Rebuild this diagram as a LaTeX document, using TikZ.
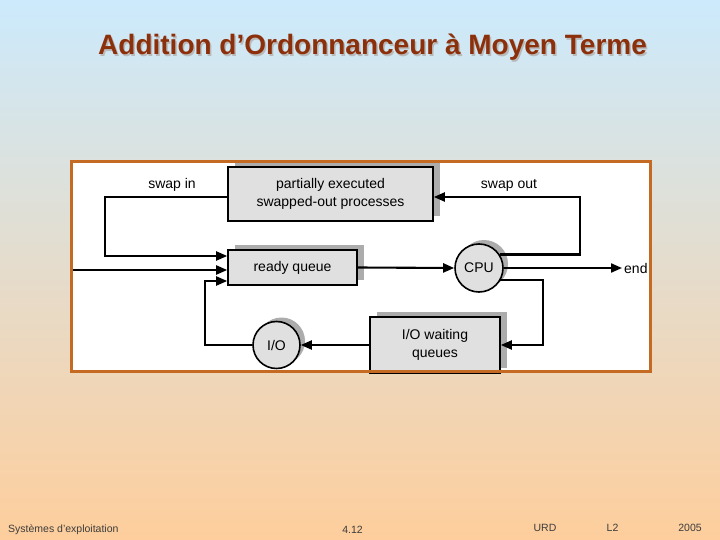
\documentclass[tikz,border=0pt]{standalone}
\usepackage{fontspec}
\setmainfont{Liberation Sans}
\usetikzlibrary{arrows.meta,shadows}
\definecolor{bgtop}{RGB}{204,234,252}
\definecolor{bgmid}{RGB}{236,222,212}
\definecolor{bgbot}{RGB}{254,206,156}
\definecolor{framec}{RGB}{196,106,34}
\definecolor{titlec}{RGB}{140,48,12}
\definecolor{boxc}{RGB}{224,224,224}
\definecolor{footc}{RGB}{60,60,60}
\tikzset{
  box/.style={draw=black, line width=1.6pt, fill=boxc, font=\fontsize{14}{18}\selectfont, align=center,
    drop shadow={shadow xshift=7pt, shadow yshift=5pt, fill=gray!65, opacity=1}},
  circ/.style={circle, draw=black, line width=1.6pt, fill=boxc, font=\fontsize{14}{18}\selectfont, inner sep=0pt,
    drop shadow={shadow xshift=5pt, shadow yshift=4pt, fill=gray!65, opacity=1}},
  arr/.style={line width=2.1pt, -{Triangle[length=11pt,width=9pt]}},
  lbl/.style={font=\fontsize{14}{18}\selectfont},
  foot/.style={font=\fontsize{10.5}{12}\selectfont, text=footc, inner sep=0pt}
}
\begin{document}
\begin{tikzpicture}[x=1pt,y=-1pt]
\useasboundingbox (0,0) rectangle (720,540);
\shade[top color=bgtop, middle color=bgmid, bottom color=bgbot] (0,0) rectangle (720,540);
% title
\node[font=\bfseries\fontsize{28}{32}\selectfont, text=gray!55] at (374,49) {Addition d’Ordonnanceur à Moyen Terme};
\node[font=\bfseries\fontsize{28}{32}\selectfont, text=titlec] (title) at (372.5,47.5) {Addition d’Ordonnanceur à Moyen Terme};
% frame
\fill[white] (71.5,161.5) rectangle (650.5,371.5);
% nodes
\node[box, minimum width=205pt, minimum height=54pt] (pe) at (330.5,194) {partially executed\\swapped-out processes};
\node[box, minimum width=129pt, minimum height=35pt] (rq) at (292.5,267.5) {ready queue};
\node[box, minimum width=130pt, minimum height=56pt] (iow) at (435,345) {I/O waiting\\queues};
\node[circ, minimum size=48pt] (cpu) at (479,268) {CPU};
\node[circ, minimum size=47pt] (io) at (276.5,345) {I/O};
\node[lbl] (swinl) at (172,185) {swap in};
\node[lbl] (swoutl) at (509,185) {swap out};
\node[lbl, anchor=west, inner sep=2pt] (endt) at (622,268) {end};
% connectors
\coordinate (swin) at (105,256);
\draw[arr] ([yshift=-3pt]pe.west) -| (swin) -- (rq.west |- swin);
\coordinate (in) at (72,270);
\draw[arr] (in) -- (rq.west |- in);
\coordinate (ioL) at (205,281);
\draw[arr] (io.west) -| (ioL) -- (rq.west |- ioL);
\draw[arr] (rq.east) -- (cpu.west);
\draw[arr] (cpu.east) -- (endt.west);
\coordinate (swo) at (580,197);
\draw[arr] (cpu.33) -| (swo) -- ([yshift=-3pt]pe.east);
\coordinate (wq) at (543,345);
\draw[arr] (cpu.-30) -| (wq) -- (iow.east);
\draw[arr] (iow.west) -- (io.east);
% frame border on top
\draw[framec, line width=3pt] (71.5,161.5) rectangle (650.5,371.5);
% footer
\node[foot, anchor=west] (f1) at (8,530) {Systèmes d'exploitation};
\node[foot] (f2) at (352.5,530) {4.12};
\node[foot] (f3) at (545,528) {URD};
\node[foot] (f4) at (612.5,528) {L2};
\node[foot] (f5) at (690,528) {2005};
\end{tikzpicture}
\end{document}
